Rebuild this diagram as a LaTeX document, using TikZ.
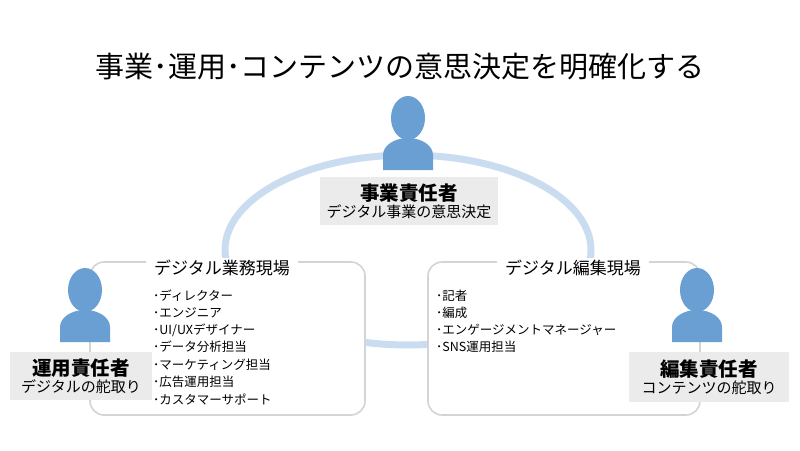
\documentclass[tikz,border=0pt]{standalone}
\usepackage{fontspec}
\setmainfont{Noto Sans CJK JP}
\usetikzlibrary{positioning}
\definecolor{ringblue}{HTML}{C9DCF0}
\definecolor{personblue}{HTML}{6A9FD4}
\definecolor{labelgray}{HTML}{EBEBEB}
\definecolor{framegray}{HTML}{D4D4D4}

\tikzset{
  field/.style={draw=framegray, line width=1.6pt, rounded corners=14pt, fill=white},
  fieldtitle/.style={fill=white, inner xsep=8pt, inner ysep=2pt, font=\fontsize{17}{19}\selectfont},
  rolebox/.style={fill=labelgray, align=center, inner sep=3pt},
  itemtext/.style={anchor=west, inner sep=0pt, font=\fontsize{12.5}{14}\selectfont}
}
\newcommand{\rolelabel}[2]{{\fontsize{19.5}{22}\selectfont\bfseries #1}\\[1.5pt]{\fontsize{15}{17}\selectfont #2}}

\begin{document}
\begin{tikzpicture}[x=1pt,y=-1pt]
    \useasboundingbox (0,0) rectangle (800,450);

    % Title
    \node (title) at (400,67) {\fontsize{29}{32}\selectfont 事業･運用･コンテンツの意思決定を明確化する};

    % Ring behind everything
    \draw[ringblue, line width=7pt] (408,250) ellipse (183pt and 95pt);

    % Fields
    \draw[field] (90,262) rectangle (365,415);
    \draw[field] (428,262) rectangle (700,415);
    \node[fieldtitle] (opsfield) at (222,268) {デジタル業務現場};
    \node[fieldtitle] (editfield) at (573,268) {デジタル編集現場};

    % Persons
    \foreach \px/\py in {408/118, 85/290, 697/290}{
        \fill[personblue] (\px,\py) ellipse (17pt and 22pt);
        \fill[personblue] (\px-25,\py+52) -- (\px-25,\py+37) arc (180:0:25pt and 17pt) -- (\px+25,\py+52) -- cycle;
    }

    % Roles
    \node[rolebox, minimum width=178pt, minimum height=48pt] (bizlead) at (409,201)
        {\rolelabel{事業責任者}{デジタル事業の意思決定}};
    \node[rolebox, minimum width=142pt, minimum height=48pt] (opslead) at (81,376)
        {\rolelabel{運用責任者}{デジタルの舵取り}};
    \node[rolebox, minimum width=160pt, minimum height=50pt] (editlead) at (709,377)
        {\rolelabel{編集責任者}{コンテンツの舵取り}};

    % Lists
    \foreach \item [count=\i] in {ディレクター, エンジニア, UI/UXデザイナー, データ分析担当, マーケティング担当, 広告運用担当, カスタマーサポート}{
        \node[itemtext] (ops\i) at (153,278+17.3*\i) {･\item};
    }
    \foreach \item [count=\i] in {記者, 編成, エンゲージメントマネージャー, SNS運用担当}{
        \node[itemtext] (edit\i) at (436,278+17.3*\i) {･\item};
    }
\end{tikzpicture}
\end{document}
